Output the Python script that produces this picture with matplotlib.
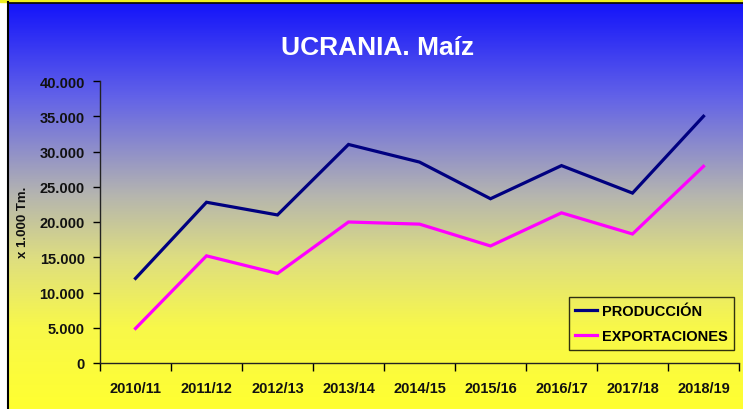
import numpy as np
import matplotlib
matplotlib.use("Agg")
import matplotlib.pyplot as plt
from matplotlib.colors import LinearSegmentedColormap

plt.rcParams['font.family'] = ['Liberation Sans', 'DejaVu Sans']

campanas = ["2010/11", "2011/12", "2012/13", "2013/14", "2014/15",
            "2015/16", "2016/17", "2017/18", "2018/19"]
produccion = [12000, 22800, 21000, 31000, 28500, 23300, 28000, 24100, 35000]
exportaciones = [4900, 15200, 12700, 20000, 19700, 16600, 21300, 18300, 27900]
yticks = [0, 5000, 10000, 15000, 20000, 25000, 30000, 35000, 40000]
ytick_labels = ["0", "5.000", "10.000", "15.000", "20.000", "25.000",
                "30.000", "35.000", "40.000"]

W, H = 743, 410
fig = plt.figure(figsize=(W / 100, H / 100), dpi=100)

# fondo degradado azul -> amarillo
bg = fig.add_axes([0, 0, 1, 1])
bg.set_xlim(0, W)
bg.set_ylim(H, 0)
bg.axis("off")
cmap = LinearSegmentedColormap.from_list(
    "fondo",
    [(0.0, "#1414fa"), (0.23, "#6262e8"), (0.47, "#b4b4b0"),
     (0.63, "#dede80"), (0.8, "#f8f84a"), (1.0, "#ffff30")])
grad = np.linspace(0, 1, 256).reshape(-1, 1)
bg.imshow(grad, cmap=cmap, aspect="auto", extent=[8, W, H, 4], zorder=0)
bg.add_patch(plt.Rectangle((0, 0), W, 3, color="#f0f020", zorder=1))
bg.plot([8, W], [3.5, 3.5], color="black", lw=1.2, zorder=2)
bg.plot([7.5, 7.5], [3, H], color="black", lw=1.5, zorder=2)

# ejes: x 100..739 px, y 82..364 px
ax = fig.add_axes([100 / W, 1 - 364 / H, 639 / W, (364 - 82) / H])
ax.patch.set_alpha(0)
x = np.arange(len(campanas))
ax.plot(x, produccion, color="#000080", lw=2.3, label="PRODUCCIÓN",
        solid_joinstyle="miter")
ax.plot(x, exportaciones, color="#ff00ff", lw=2.3, label="EXPORTACIONES",
        solid_joinstyle="miter")

ax.set_xlim(-0.5, len(campanas) - 0.5)
ax.set_ylim(0, 40000)
ax.set_yticks(yticks)
ax.set_yticklabels(ytick_labels)
ax.set_xticks(x)
ax.set_xticklabels(campanas)
ax.set_xticks(np.arange(-0.5, len(campanas), 1), minor=True)
ax.tick_params(axis="x", which="major", length=0, pad=13)
ax.tick_params(axis="x", which="minor", length=6, width=1, direction="out")
ax.tick_params(axis="y", length=5, width=1, direction="out", pad=6)
for lab in ax.get_xticklabels() + ax.get_yticklabels():
    lab.set_fontweight("bold")
    lab.set_fontsize(10.5)
    lab.set_color("#111111")

for s in ["top", "right"]:
    ax.spines[s].set_visible(False)
for s in ["left", "bottom"]:
    ax.spines[s].set_color("#222222")
    ax.spines[s].set_linewidth(1)

fig.text(23 / W, 1 - 222 / H, "x 1.000 Tm.", rotation=90, ha="center",
         va="center", fontsize=9.5, fontweight="bold", color="#111111")
fig.text(378 / W, 1 - 48 / H, "UCRANIA. Maíz", ha="center", va="center",
         fontsize=19, fontweight="bold", color="white")

leg = ax.legend(loc="lower right", bbox_to_anchor=(734 / W, 1 - 351 / H),
                bbox_transform=fig.transFigure, frameon=True, fancybox=False,
                edgecolor="black", facecolor="none", handlelength=1.5,
                handletextpad=0.3, borderpad=0.45, borderaxespad=0,
                labelspacing=0.8, prop={"weight": "bold", "size": 10.5})
leg.get_frame().set_linewidth(1)

fig.savefig("out.png", dpi=100)
